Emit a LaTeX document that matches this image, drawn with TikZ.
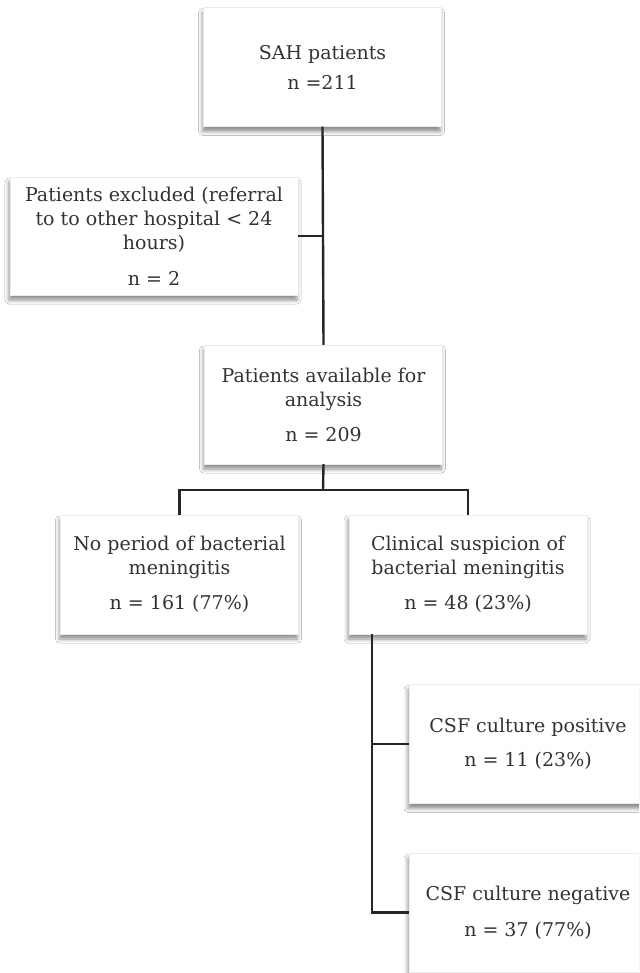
\documentclass[tikz,border=0pt]{standalone}
\usepackage{fontspec}
\setmainfont{DejaVu Serif}
\usetikzlibrary{shadows.blur}
\begin{document}
\begin{tikzpicture}[x=1pt,y=-1pt,
  box/.style={fill=white, draw=black!8, line width=0.4pt, minimum width=238pt, minimum height=119pt,
    align=center, inner sep=0pt, text=black!80, font=\fontsize{19}{24}\selectfont,
    blur shadow={shadow xshift=-1pt, shadow yshift=-5pt, shadow blur radius=4pt, shadow opacity=45}},
  conn/.style={line width=2.4pt, draw=black!85}]
\useasboundingbox (0,0) rectangle (639,973);
\clip (0,0) rectangle (639,973);
\fill[white] (0,0) rectangle (639,973);

\node[box] (b1) at (322.5,67) {SAH patients\\[6pt]n =211};
\node[box, minimum width=288pt, minimum height=118pt] (b2) at (154,236)
  {Patients excluded (referral\\to to other hospital < 24\\hours)\\[12pt]n = 2};
\node[box] (b3) at (323.5,404.5) {Patients available for\\analysis\\[11pt]n = 209};
\node[box] (b4) at (179.5,574.5) {No period of bacterial\\meningitis\\[11pt]n = 161 (77\%)};
\node[box] (b5) at (468,574.5) {Clinical suspicion of\\bacterial meningitis\\[11pt]n = 48 (23\%)};
\node[box] (b6) at (528,744) {CSF culture positive\\[10pt]n = 11 (23\%)};
\node[box] (b7) at (528,912.5) {CSF culture negative\\[12pt]n = 37 (77\%)};

\coordinate (j1) at (323,236);
\coordinate (jA) at (323,490);
\coordinate (s5) at (372,634);

\draw[conn] (b1.south) -- (b3.north);
\draw[conn] (b2.east) -- (j1);
\draw[conn] (b3.south) -- (jA);
\draw[conn] (b4.north) |- (jA) -| (b5.north);
\draw[conn] (s5) |- (b7.west);
\draw[conn] (b6.west) -- (b6.west -| s5);
\end{tikzpicture}
\end{document}
